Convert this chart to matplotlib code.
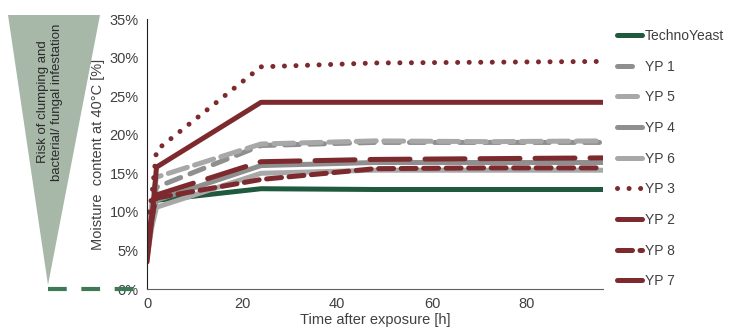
import matplotlib.pyplot as plt
from matplotlib.patches import Polygon
from matplotlib.lines import Line2D

plt.rcParams['font.family'] = ['Liberation Sans', 'DejaVu Sans']

# time points [h]
hours = [0, 1, 2, 24, 48, 72, 96]

# moisture content [%]
techno_yeast = [6.0, 10.5, 11.5, 13.0, 12.9, 12.9, 12.9]
yp1 = [5.0, 10.0, 13.2, 18.6, 19.0, 19.0, 19.0]
yp5 = [5.5, 11.0, 14.5, 18.8, 19.2, 19.1, 19.2]
yp4 = [4.5, 9.0, 11.5, 16.0, 16.4, 16.4, 16.4]
yp6 = [4.0, 8.0, 10.6, 15.0, 15.4, 15.4, 15.4]
yp3 = [8.5, 12.0, 18.0, 28.8, 29.3, 29.4, 29.5]
yp2 = [3.5, 9.0, 15.8, 24.2, 24.2, 24.2, 24.2]
yp8 = [6.0, 9.5, 11.8, 14.2, 15.6, 15.7, 15.7]
yp7 = [5.0, 9.0, 12.2, 16.5, 16.8, 16.9, 17.0]

series_names = ['TechnoYeast', 'YP 1', 'YP 5', 'YP 4', 'YP 6', 'YP 3', 'YP 2', 'YP 8', 'YP 7']
series_values = [techno_yeast, yp1, yp5, yp4, yp6, yp3, yp2, yp8, yp7]

y_ticks = [0, 5, 10, 15, 20, 25, 30, 35]
x_ticks = [0, 20, 40, 60, 80]

red = '#7d2a2e'
grey = '#8f8f8f'
light_grey = '#a8a8a8'
green = '#1f5a3e'
styles = [
    dict(color=green, dashes=()),
    dict(color=grey, dashes=(3, 2)),
    dict(color=light_grey, dashes=(4, 1.5)),
    dict(color=grey, dashes=()),
    dict(color=light_grey, dashes=()),
    dict(color=red, dashes=(0.01, 2.3)),
    dict(color=red, dashes=()),
    dict(color=red, dashes=(3, 1.5)),
    dict(color=red, dashes=(8, 3)),
]

fig = plt.figure(figsize=(7.3, 3.34), dpi=100)
ax = fig.add_axes([0.2014, 0.1347, 0.6246, 0.8084])

handles = []
for name, vals, st in zip(series_names, series_values, styles):
    ln, = ax.plot(hours, vals, color=st['color'], linewidth=3.6,
                  solid_capstyle='round', dash_capstyle='round', label=name)
    if st['dashes']:
        ln.set_dashes(st['dashes'])
    handles.append(ln)

ax.set_xlim(0, 96)
ax.set_ylim(0, 35)
ax.set_yticks(y_ticks)
ax.set_yticklabels([f'{v}%' for v in y_ticks])
ax.set_xticks(x_ticks)
ax.tick_params(length=0, labelsize=10.5, labelcolor='#404040', pad=6)
for s in ['top', 'right']:
    ax.spines[s].set_visible(False)
ax.spines['left'].set_color('#202020')
ax.spines['bottom'].set_color('#606060')
ax.set_ylabel('Moisture  content at 40°C [%]', fontsize=10.5, color='#404040', labelpad=3)
ax.set_xlabel('Time after exposure [h]', fontsize=10.5, color='#404040', labelpad=1)

leg = fig.legend(handles=handles, loc='upper left', bbox_to_anchor=(0.838, 0.93),
                 frameon=False, fontsize=10, handlelength=1.8, handletextpad=0.2,
                 labelspacing=1.2, borderaxespad=0)
for t in leg.get_texts():
    t.set_color('#404040')

# risk triangle on the left
W, H = 730, 334
tri = Polygon([(8 / W, 1 - 15 / H), (100 / W, 1 - 15 / H), (48 / W, 1 - 285 / H)],
              closed=True, transform=fig.transFigure, facecolor='#a7b8a8', edgecolor='none')
fig.patches.append(tri)
fig.text(50 / W, 1 - 102 / H, 'Risk of clumping and\nbacterial/ fungal infestation',
         rotation=90, ha='center', va='center', fontsize=9.5, color='#2a2a2a',
         linespacing=1.15)
fig.add_artist(Line2D([48 / W, 146 / W], [1 - 289 / H, 1 - 289 / H], transform=fig.transFigure,
                      color='#3d7a55', linewidth=3, dashes=(4.5, 3.5)))

fig.savefig('out.png', dpi=100)
